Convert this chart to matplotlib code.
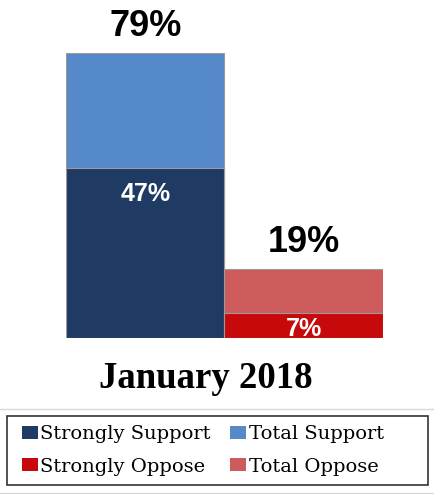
import matplotlib.pyplot as plt
from matplotlib.patches import Patch, Rectangle
from matplotlib.lines import Line2D

groups = ['Support', 'Oppose']
total = [79, 19]
strongly = [47, 7]
total_colors = ['#5589C9', '#CD5B5B']
strong_colors = ['#1F3A63', '#C8090B']
period = 'January 2018'


def draw():
    fig = plt.figure(figsize=(4.35, 4.94), dpi=100)
    W, H = 435, 494
    ax = fig.add_axes([66 / W, (H - 338) / H, 317 / W, 285 / H])
    x = list(range(len(groups)))

    ax.bar(x, total, width=1.0, color=total_colors, edgecolor='#9a9a9a', linewidth=0.8)
    ax.bar(x, strongly, width=1.0, color=strong_colors, edgecolor='#9a9a9a', linewidth=0.8)
    ax.set_xlim(-0.5, 1.5)
    ax.set_ylim(0, 79)
    ax.axis('off')

    inner_off = [-9.5, -3]
    for xi, t, s, off in zip(x, total, strongly, inner_off):
        ax.annotate(f'{t}%', (xi, t), xytext=(0, 6.5), textcoords='offset points',
                    ha='center', va='bottom', fontsize=26, fontweight='bold',
                    family='Liberation Sans', color='black', annotation_clip=False)
        ax.annotate(f'{s}%', (xi, s), xytext=(0, off), textcoords='offset points',
                    ha='center', va='top', fontsize=18, fontweight='bold',
                    family='Liberation Sans', color='white', annotation_clip=False)

    fig.text(206 / W, 1 - 378 / H, period, ha='center', va='center',
             fontsize=26.5, fontweight='bold', family='Liberation Serif')

    # legend box drawn on its own, legend itself frameless
    fig.add_artist(Rectangle((7 / W, 1 - 485 / H), 421 / W, 69 / H, transform=fig.transFigure,
                             facecolor='white', edgecolor='#333333', linewidth=1.2))
    handles = [Patch(facecolor=strong_colors[0], label='Strongly Support'),
               Patch(facecolor=strong_colors[1], label='Strongly Oppose'),
               Patch(facecolor=total_colors[0], label='Total Support'),
               Patch(facecolor=total_colors[1], label='Total Oppose')]
    fig.legend(handles=handles, ncol=2, loc='center left',
               bbox_to_anchor=(22 / W, 1 - 450.5 / H), frameon=False,
               prop={'family': 'DejaVu Serif', 'size': 14},
               handlelength=0.8, handleheight=0.65, handletextpad=0.15,
               columnspacing=1.0, labelspacing=0.75, borderpad=0, borderaxespad=0)

    for yy in (409, 493):
        fig.add_artist(Line2D([0, 1], [1 - yy / H, 1 - yy / H], color='#d8d8d8', linewidth=1))

    fig.savefig('out.png', dpi=100)


if __name__ == '__main__':
    draw()
